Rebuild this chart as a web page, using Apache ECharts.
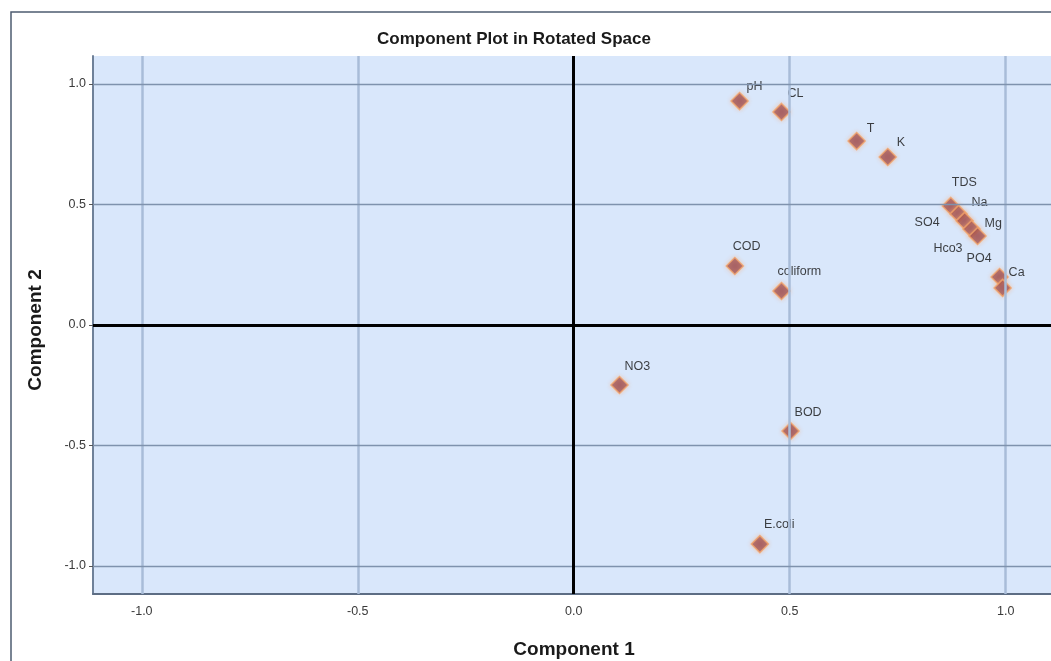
<!DOCTYPE html>
<html>
<head>
<meta charset="utf-8">
<title>Component Plot in Rotated Space</title>
<script src="https://cdn.jsdelivr.net/npm/echarts@6/dist/echarts.min.js"></script>
<style>
  html, body { margin: 0; padding: 0; background: #ffffff; }
  #chart { width: 1051px; height: 661px; }
</style>
</head>
<body>
<div id="chart"></div>
<script>
// Rotated component loadings of the water-quality variables
const variables = ['pH', 'CL', 'T', 'K', 'TDS', 'Na', 'SO4', 'Mg', 'Hco3', 'PO4', 'Ca', 'COD', 'coliform', 'NO3', 'BOD', 'E.coli'];
const component1 = [0.384, 0.481, 0.655, 0.727, 0.873, 0.891, 0.905, 0.921, 0.935, 0.986, 0.993, 0.373, 0.481, 0.106, 0.502, 0.431];
const component2 = [0.929, 0.884, 0.763, 0.697, 0.494, 0.461, 0.432, 0.398, 0.369, 0.199, 0.154, 0.245, 0.141, -0.249, -0.440, -0.909];

// Tick values shown on both axes
const xTicks = [-1.0, -0.5, 0.0, 0.5, 1.0];
const yTicks = [-1.0, -0.5, 0.0, 0.5, 1.0];

// Visible axis ranges
const X_MIN = -1.113, X_MAX = 1.105;
const Y_MIN = -1.116, Y_MAX = 1.116;

// Label placement around each marker: [dx, dy] from the marker centre, text alignment
const labelLayout = {
  'pH':       [7, -15, 'left'],
  'CL':       [6, -18, 'left'],
  'T':        [10, -13, 'left'],
  'K':        [9, -14, 'left'],
  'TDS':      [1, -23, 'left'],
  'Na':       [13, -11, 'left'],
  'SO4':      [-25, 2, 'right'],
  'Mg':       [13, -6, 'left'],
  'Hco3':     [-15, 12, 'right'],
  'PO4':      [-8, -18, 'right'],
  'Ca':       [6, -15, 'left'],
  'COD':      [-2, -19, 'left'],
  'coliform': [-4, -19, 'left'],
  'NO3':      [5, -18, 'left'],
  'BOD':      [4, -19, 'left'],
  'E.coli':   [4, -20, 'left']
};

const FONT = '"Liberation Sans", Arial, sans-serif';

const points = variables.map((name, i) => {
  const l = labelLayout[name];
  return {
    name: name,
    value: [component1[i], component2[i]],
    label: { offset: [l[0], l[1]], align: l[2] }
  };
});

// Reference lines: light vertical grid, darker horizontal grid, heavy zero lines
const gridLines = [];
xTicks.filter(v => v !== 0).forEach(v => gridLines.push({
  xAxis: v, lineStyle: { color: '#a8bcd8', width: 2.5, type: 'solid' }
}));
yTicks.filter(v => v !== 0).forEach(v => gridLines.push({
  yAxis: v, lineStyle: { color: '#7f92ad', width: 1.3, type: 'solid' }
}));
gridLines.push({ xAxis: 0, lineStyle: { color: '#000000', width: 3, type: 'solid' } });
gridLines.push({ yAxis: 0, lineStyle: { color: '#000000', width: 3, type: 'solid' } });

const chart = echarts.init(document.getElementById('chart'), null, { renderer: 'canvas' });

chart.setOption({
  backgroundColor: '#ffffff',
  animation: false,
  textStyle: { fontFamily: FONT },
  grid: {
    left: 93, right: 0, top: 56, bottom: 67,
    show: true, backgroundColor: '#d9e7fb', borderWidth: 0
  },
  xAxis: {
    type: 'value', min: X_MIN, max: X_MAX,
    axisLine: { show: true, onZero: false, lineStyle: { color: '#5d6d84', width: 2 } },
    axisTick: { show: false },
    splitLine: { show: false },
    axisLabel: {
      customValues: xTicks, margin: 11,
      color: '#3a3a3a', fontSize: 12.5, fontFamily: FONT,
      formatter: v => v.toFixed(1)
    }
  },
  yAxis: {
    type: 'value', min: Y_MIN, max: Y_MAX,
    axisLine: { show: true, onZero: false, lineStyle: { color: '#6f8199', width: 2 } },
    axisTick: { show: true, customValues: yTicks, length: 4, inside: false, lineStyle: { color: '#555', width: 1 } },
    splitLine: { show: false },
    axisLabel: {
      customValues: yTicks, margin: 7,
      color: '#3a3a3a', fontSize: 12.5, fontFamily: FONT,
      formatter: v => v.toFixed(1)
    }
  },
  series: [
    {
      type: 'scatter', data: [], z: 1, silent: true,
      markLine: {
        silent: true, symbol: 'none', animation: false,
        label: { show: false },
        data: gridLines
      }
    },
    {
      type: 'scatter', z: 3,
      data: points,
      symbol: 'diamond', symbolSize: 17,
      itemStyle: {
        color: '#974850', borderColor: '#f3a46a', borderWidth: 1.5,
        shadowBlur: 4, shadowColor: 'rgba(255,170,110,0.55)'
      },
      label: {
        show: true, position: 'inside', verticalAlign: 'middle',
        formatter: p => p.name,
        color: '#111111', textBorderWidth: 0, fontSize: 12.5, fontFamily: FONT
      }
    }
  ],
  graphic: [
    {
      type: 'rect', z: -1, silent: true,
      shape: { x: 11, y: 12, width: 1100, height: 700 },
      style: { fill: 'none', stroke: '#4e5c70', lineWidth: 1.5 }
    },
    {
      type: 'text', left: 377, top: 31,
      style: { text: 'Component Plot in Rotated Space', font: 'bold 17px ' + FONT, fill: '#1a1a1a' }
    },
    {
      type: 'text', x: 574, y: 650,
      style: { text: 'Component 1', font: 'bold 19px ' + FONT, fill: '#1a1a1a', align: 'center', verticalAlign: 'middle' }
    },
    {
      type: 'text', x: 36, y: 330, rotation: Math.PI / 2,
      style: { text: 'Component 2', font: 'bold 19px ' + FONT, fill: '#1a1a1a', align: 'center', verticalAlign: 'middle' }
    }
  ]
});
</script>
</body>
</html>
